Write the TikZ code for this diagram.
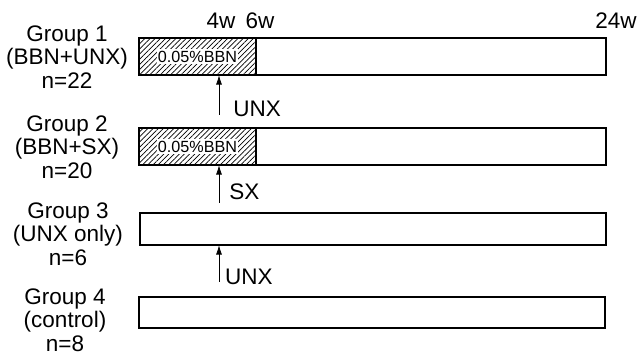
\documentclass[tikz,border=0pt]{standalone}
\usepackage{fontspec}
\setmainfont{Liberation Sans}
\usepackage{tikz}
\usetikzlibrary{
  arrows.meta,
  positioning,
  patterns.meta
}
\tikzset{
  bar/.style={
    draw,
    line width=1pt,
    anchor=north west,
    inner sep=0pt,
    outer sep=0pt,
    minimum width=11.675cm
  },
  dosebox/.style={
    draw,
    line width=1pt,
    pattern={Lines[angle=45,distance=2.6pt,line width=0.5pt]},
    anchor=north west,
    inner sep=0pt,
    outer sep=0pt,
    minimum width=2.925cm
  },
  dosetext/.style={
    fill=white,
    inner sep=1pt,
    font=\fontsize{11.5}{12}\selectfont
  },
  grouplabel/.style={
    align=center,
    font=\fontsize{16}{16.6}\selectfont
  },
  weeklabel/.style={
    font=\fontsize{16}{16.6}\selectfont
  },
  treatment/.style={
    -{Latex[length=2.4mm,width=1.5mm]},
    line width=0.6pt
  },
  treatlabel/.style={
    right,
    inner sep=1pt,
    font=\fontsize{16}{16.6}\selectfont
  }
}

\begin{document}
\begin{tikzpicture}[
  x=0.025cm,
  y=-0.025cm
]

  \useasboundingbox (0,0) rectangle (640,354);

  % bars
  \node[
    bar,
    minimum height=0.925cm
  ] (bar1) at (139,38) {};

  \node[
    dosebox,
    minimum height=0.925cm
  ] (dose1) at (139,38) {};

  \node[dosetext] (doseText1) at (dose1.center) {0.05\%BBN};

  \node[
    bar,
    minimum height=0.925cm
  ] (bar2) at (139,128) {};

  \node[
    dosebox,
    minimum height=0.925cm
  ] (dose2) at (139,128) {};

  \node[dosetext] (doseText2) at (dose2.center) {0.05\%BBN};

  \node[
    bar,
    minimum width=11.65cm,
    minimum height=0.8cm
  ] (bar3) at (140,213) {};

  \node[
    bar,
    minimum width=11.65cm,
    minimum height=0.775cm
  ] (bar4) at (139,297) {};

  % week marks
  \node[weeklabel] (week4) at (221,21) {4w};
  \node[weeklabel] (week6) at (260,21) {6w};
  \node[weeklabel] (week24) at (616,21) {24w};

  % groups
  \node[grouplabel] (group1) at (67,57) {
    Group 1\\
    (BBN+UNX)\\
    n=22
  };

  \node[grouplabel] (group2) at (67,147) {
    Group 2\\
    (BBN+SX)\\
    n=20
  };

  \node[grouplabel] (group3) at (68,234) {
    Group 3\\
    (UNX only)\\
    n=6
  };

  \node[grouplabel] (group4) at (65,320) {
    Group 4\\
    (control)\\
    n=8
  };

  % treatments
  \coordinate (tail1) at (219,115);
  \coordinate (tail2) at (219,203);
  \coordinate (tail3) at (219,282);

  \draw[treatment]
  (tail1) --
  node[
    treatlabel,
    pos=0.15,
    xshift=9pt
  ] (unx1) {
    UNX
  }
  (tail1 |- bar1.south);

  \draw[treatment]
  (tail2) --
  node[
    treatlabel,
    pos=0.29,
    xshift=6pt
  ] (sx) {
    SX
  }
  (tail2 |- bar2.south);

  \draw[treatment]
  (tail3) --
  node[
    treatlabel,
    pos=0.14,
    xshift=3pt
  ] (unx2) {
    UNX
  }
  (tail3 |- bar3.south);

\end{tikzpicture}
\end{document}
